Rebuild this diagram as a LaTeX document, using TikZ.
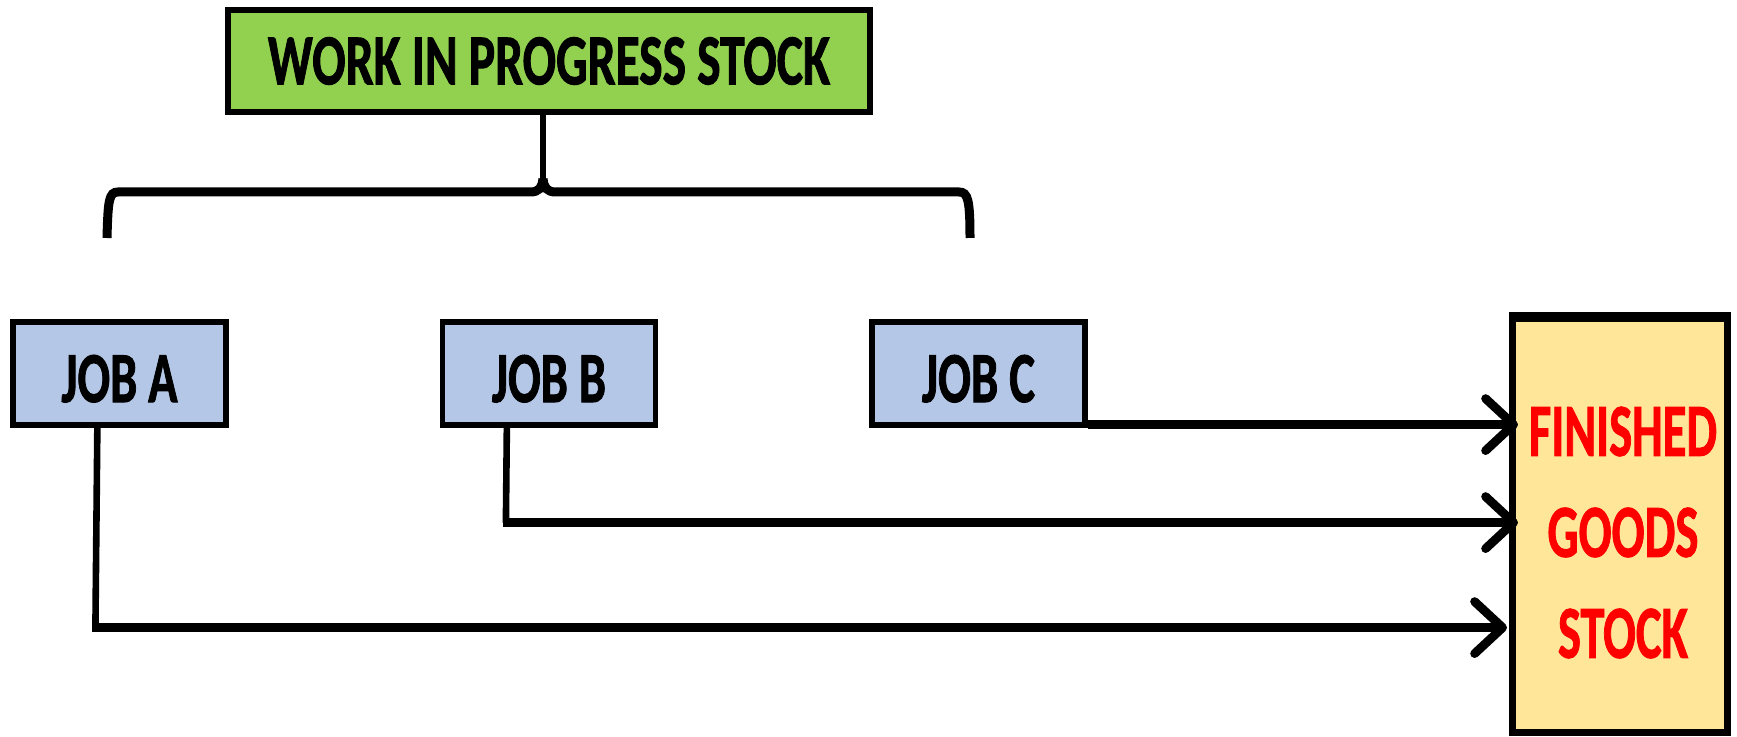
\documentclass[tikz,border=0pt]{standalone}
\usepackage{fontspec}
\setmainfont{Carlito}[BoldFeatures={FakeBold=1.5}]
\usetikzlibrary{arrows.meta,calc}
\definecolor{wipgreen}{HTML}{92D050}
\definecolor{jobblue}{HTML}{B4C7E7}
\definecolor{fgyellow}{HTML}{FFE699}
\definecolor{fgred}{HTML}{FF0000}
\begin{document}
\begin{tikzpicture}[x=0.5pt,y=-0.5pt,
  box/.style={draw=black, rectangle, inner sep=0pt, font=\bfseries},
  wipbox/.style={box, fill=wipgreen, line width=2.8pt, minimum width=321pt, minimum height=51pt},
  jobbox/.style={box, fill=jobblue, line width=2.6pt, minimum width=106.5pt, minimum height=51.5pt},
  fgbox/.style={box, fill=fgyellow, line width=3.5pt, minimum width=107.5pt, minimum height=207.5pt},
  fgtext/.style={inner sep=0pt, align=center, text=fgred, font=\bfseries\fontsize{36}{50.5}\selectfont},
  vline/.style={line width=3.3pt},
  conn/.style={line width=4.6pt, -{Straight Barb[length=14pt,width=26pt,line width=4.4pt,round]}},
  bracket/.style={line width=4.5pt},
]
\useasboundingbox (0,0) rectangle (1737,737);

\node[wipbox] (wip) at (549,61) {\resizebox{281pt}{23.5pt}{WORK IN PROGRESS STOCK}};

\node[jobbox] (jobA) at (119.5,373.5) {\raisebox{-2.5pt}[23.5pt][0pt]{\resizebox{58pt}{23.5pt}{JOB A}}};
\node[jobbox] (jobB) at (549,373.5) {\raisebox{-2.5pt}[23.5pt][0pt]{\resizebox{57pt}{23.5pt}{JOB B}}};
\node[jobbox] (jobC) at (978.5,373.5) {\raisebox{-2.5pt}[23.5pt][0pt]{\resizebox{56.5pt}{23.5pt}{JOB C}}};

\node[fgbox] (fg) at (1620,525) {};
\draw[line width=5pt] ([yshift=-1.5pt]fg.north west) -- ([yshift=-1.5pt]fg.north east);
\node[fgtext] (fgt) at (1623,532.5) {\resizebox{94pt}{24.5pt}{FINISHED}\\\resizebox{75.5pt}{24.5pt}{GOODS}\\\resizebox{65pt}{24.5pt}{STOCK}};

% brace under the work-in-progress box
\draw[line width=3.3pt] ([xshift=-3pt,yshift=3pt]wip.south) coordinate (st) -- ++(0,70) coordinate (sb);
\draw[bracket] (107,238) .. controls (108,200) and (109,192) .. (118,192) -- (530,192)
  .. controls (539,192) and (542,188) .. (sb);
\draw[bracket] (sb) .. controls (544,188) and (547,192) .. (556,192) -- (959,192)
  .. controls (968,192) and (970,200) .. (970,238);

% connectors
\draw[conn, shorten >=-4.5pt] ($(jobC.south east)+(0,-3)$) coordinate (c0) -- (c0 -| fg.west);

\draw[vline] ($(jobB.south west)+(67,-5)$) coordinate (b0) -- ++(-1,100) coordinate (b1);
\draw[conn, shorten >=-4.5pt] ($(b1)+(-3.3,0)$) coordinate (b2) -- (b2 -| fg.west);

\draw[vline] ($(jobA.south west)+(87,-5)$) coordinate (a0) -- ++(-2,207) coordinate (a1);
\draw[conn, shorten >=1pt] ($(a1)+(-3.3,-2)$) coordinate (a2) -- (a2 -| fg.west);
\end{tikzpicture}
\end{document}
